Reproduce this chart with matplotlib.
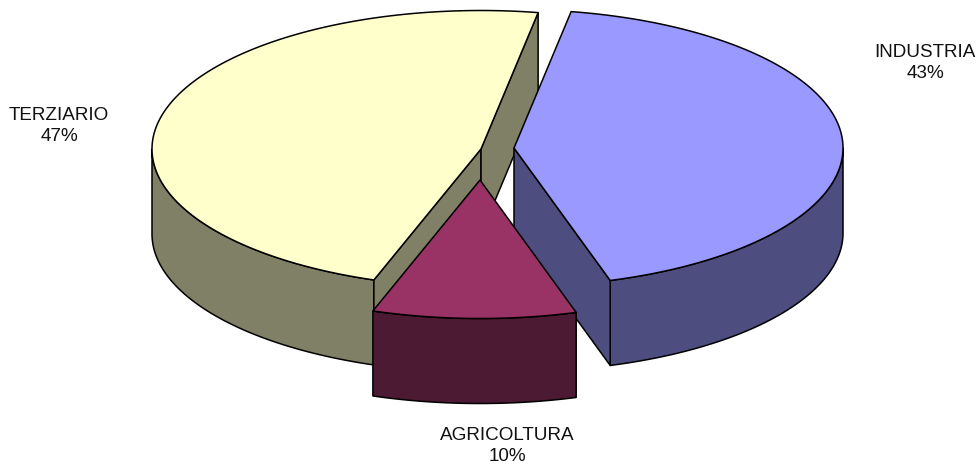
import numpy as np
import matplotlib
matplotlib.use("Agg")
import matplotlib.pyplot as plt
from matplotlib.patches import Polygon

# Data (clockwise from the start angle)
categories = ["INDUSTRIA", "AGRICOLTURA", "TERZIARIO"]
shares = [42.5, 10.0, 47.5]
percent_labels = ["43%", "10%", "47%"]
top_colors = ["#9999FF", "#993366", "#FFFFCC"]
side_colors = ["#4D4D80", "#4D1A33", "#808066"]

# Pie geometry, in figure pixels
START_DEG = 10.0
RX, RY, DEPTH = 329.0, 138.5, 85.0
apex_by_cat = {"INDUSTRIA": (514, 148), "AGRICOLTURA": (480, 180), "TERZIARIO": (481, 149)}
label_pos = {"INDUSTRIA": (925, 63), "AGRICOLTURA": (507, 446), "TERZIARIO": (59, 126)}
LW = 1.1

plt.rcParams["font.family"] = ["Liberation Sans", "DejaVu Sans"]
fig = plt.figure(figsize=(9.8, 4.65), dpi=100, facecolor="white")
ax = fig.add_axes([0, 0, 1, 1])
ax.set_xlim(0, 980)
ax.set_ylim(465, 0)
ax.axis("off")

# Angular extent of each slice from the values
total = sum(shares)
edges = START_DEG + np.concatenate([[0], np.cumsum(shares)]) * 360.0 / total
spans = {c: (edges[i], edges[i + 1]) for i, c in enumerate(categories)}


def rim(apex, a0, a1, n=200):
    t = np.radians(np.linspace(a0, a1, n))
    return np.column_stack([apex[0] + RX * np.sin(t), apex[1] - RY * np.cos(t)])


def face(points, color, z):
    ax.add_patch(Polygon(points, closed=True, facecolor=color, edgecolor="black",
                         linewidth=LW, joinstyle="round", zorder=z))


def wall(apex, ang, color, z):
    p = rim(apex, ang, ang, 1)[0]
    face([apex, tuple(p), (p[0], p[1] + DEPTH), (apex[0], apex[1] + DEPTH)], color, z)


def outer(apex, a0, a1, color, z):
    # Only the part of the rim facing the viewer (90 to 270 degrees) has a visible side
    lo, hi = max(a0, 90), min(a1, 270)
    r = rim(apex, lo, hi)
    face(np.vstack([r, r[::-1] + [0, DEPTH]]), color, z)


z = 1
for cat in ["TERZIARIO", "INDUSTRIA", "AGRICOLTURA"]:
    i = categories.index(cat)
    a0, a1 = spans[cat]
    apex = apex_by_cat[cat]
    outer(apex, a0, a1, side_colors[i], z)
    if cat == "TERZIARIO":
        wall(apex, a0, side_colors[i], z + 1)   # cut facing the front
        wall(apex, a1, side_colors[i], z + 1)   # cut facing right
    elif cat == "INDUSTRIA":
        wall(apex, a1, side_colors[i], z + 1)   # cut facing the front
    face(np.vstack([[apex], rim(apex, a0, a1)]), top_colors[i], z + 2)
    z += 3

for i, cat in enumerate(categories):
    x, y = label_pos[cat]
    ax.text(x, y, cat + "\n" + percent_labels[i], ha="center", va="center", ma="center",
            fontsize=13.6, color="#111111", linespacing=1.27, zorder=30)

fig.savefig("out.png", dpi=100)
